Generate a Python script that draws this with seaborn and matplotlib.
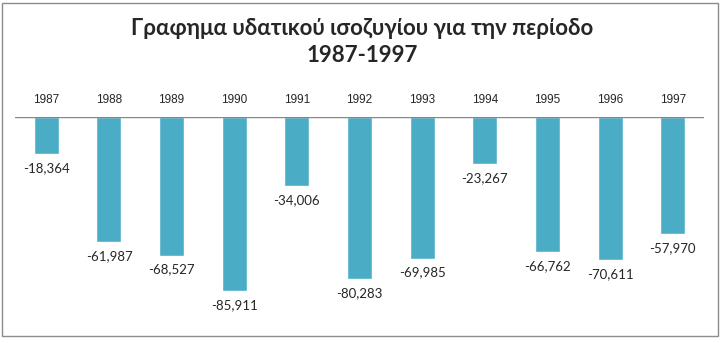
import numpy as np
import matplotlib
matplotlib.use("Agg")
import matplotlib.pyplot as plt
import pandas as pd
import seaborn as sns

years = ["1987", "1988", "1989", "1990", "1991", "1992", "1993", "1994", "1995", "1996", "1997"]
balance = [-18364, -61987, -68527, -85911, -34006, -80283, -69985, -23267, -66762, -70611, -57970]
title = "Γραφημα υδατικού ισοζυγίου για την περίοδο\n1987-1997"

sns.set_style("white")
plt.rcParams["font.family"] = ["Lato", "DejaVu Sans"]

df = pd.DataFrame({"year": years, "balance": balance})

fig = plt.figure(figsize=(7.25, 3.43), dpi=100)
ax = fig.add_axes([15 / 725, 1 - 329.5 / 343, 689 / 725, (329.5 - 117) / 343])

sns.barplot(data=df, x="year", y="balance", color="#4BACC6", saturation=1,
            width=0.4, ax=ax)

ax.set_ylim(-105000, 0)
ax.set_xlim(-0.5, len(years) - 0.5)
ax.axhline(0, color="#868686", lw=1, zorder=5)

# year labels sit above the zero line, values below each bar
for i, (yr, v) in enumerate(zip(years, balance)):
    ax.annotate(yr, (i, 0), xytext=(0, 12), textcoords="offset points",
                ha="center", va="center", fontsize=8.5,
                family=["Liberation Sans Narrow", "Liberation Sans", "DejaVu Sans"],
                annotation_clip=False)
    ax.annotate(f"{v:,}", (i, v), xytext=(0, -10), textcoords="offset points",
                ha="center", va="center", fontsize=9.5, annotation_clip=False)

ax.set_xticks([])
ax.set_yticks([])
ax.set_xlabel("")
ax.set_ylabel("")
for s in ax.spines.values():
    s.set_visible(False)

fig.text(0.5, 1 - 42 / 343, title, ha="center", va="center", fontsize=16,
         fontweight="bold", linespacing=1.4)

fig.patches.append(plt.Rectangle((2 / 725, 1 - 336 / 343), 716 / 725, 333 / 343,
                                 transform=fig.transFigure, fill=False,
                                 edgecolor="#8c8c8c", lw=1))

fig.savefig("out.png", dpi=100)
